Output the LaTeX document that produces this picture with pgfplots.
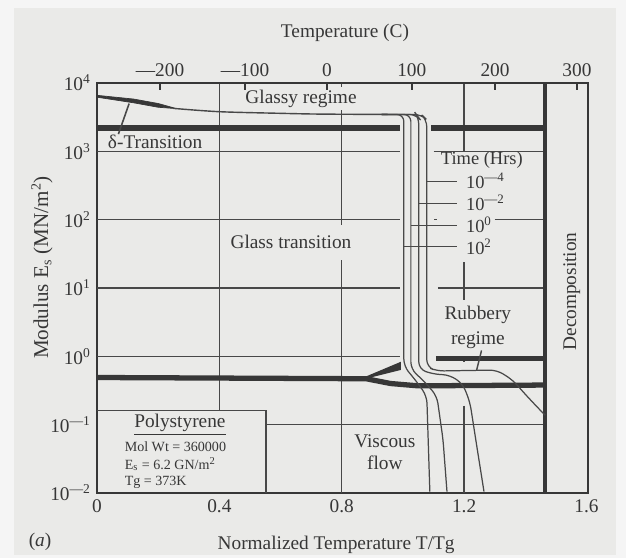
\documentclass[border=0pt]{standalone}
\usepackage{pgfplots}
\pgfplotsset{compat=1.18}
\usepackage{fontspec}
\setmainfont{Liberation Serif}
\definecolor{paper}{RGB}{234,234,232}
\definecolor{ink}{RGB}{55,55,55}
\definecolor{inkthin}{RGB}{72,72,72}
\tikzset{
  thinl/.style={inkthin, line width=0.85pt},
  thickl/.style={ink, line width=3pt},
  curvel/.style={inkthin, line width=0.7pt, rounded corners=4pt},
  lab/.style={font=\fontsize{11}{13}\selectfont, text=ink},
  small/.style={font=\fontsize{8}{9}\selectfont, text=ink, anchor=west, inner sep=0.3pt},
}
\begin{document}
\begin{tikzpicture}
\useasboundingbox (0,0) rectangle (12.52cm,11.16cm);
\fill[white!96!black] (0,0) rectangle (12.52cm,11.16cm);
\fill[paper] (0.28cm,0.06cm) rectangle (12.32cm,11.0cm);
\begin{axis}[
  at={(1.94cm,1.30cm)}, anchor=south west,
  scale only axis, width=9.82cm, height=8.2cm,
  xmin=0, xmax=1.605, ymode=log, ymin=0.01, ymax=10000,
  axis line style={ink, line width=1pt},
  xtick={0,0.4,0.8,1.2,1.6}, xticklabels={0,0.4,0.8,1.2,1.6},
  ytick={0.01,0.1,1,10,100,1000,10000},
  yticklabels={10\textsuperscript{\textemdash2},10\textsuperscript{\textemdash1},10\textsuperscript{0},10\textsuperscript{1},10\textsuperscript{2},10\textsuperscript{3},10\textsuperscript{4}},
  yminorticks=false, major tick length=0pt, minor tick length=0pt,
  tick label style={font=\fontsize{11}{13}\selectfont, text=ink},
  xlabel={Normalized Temperature T/Tg},
  xlabel style={font=\fontsize{11}{13}\selectfont, text=ink, at={(axis description cs:0.487,-0.127)}, anchor=center},
  ylabel={Modulus E\textsubscript{s} (MN/m\textsuperscript{2})},
  ylabel style={font=\fontsize{12}{14}\selectfont, text=ink, at={(axis description cs:-0.112,0.55)}, anchor=center},
  clip=false,
]
% thin horizontal lines
\addplot[thinl] coordinates {(0,1000) (0.99,1000)};
\addplot[thinl] coordinates {(1.10,1000) (1.465,1000)};
\addplot[thinl] coordinates {(0,100) (0.99,100)};
\addplot[thinl] coordinates {(1.30,100) (1.465,100)};
\addplot[thinl] coordinates {(1.103,100) (1.112,100)};
\addplot[thinl] coordinates {(0,10) (0.99,10)};
\addplot[thinl] coordinates {(1.114,10) (1.465,10)};
\addplot[thinl] coordinates {(0,1) (0.99,1)};
\addplot[thinl] coordinates {(0.552,0.1) (1.465,0.1)};
% thin vertical lines
\addplot[thinl] coordinates {(0.4,10000) (0.4,0.16)};
\addplot[thinl] coordinates {(0.8,10000) (0.8,0.01)};
\addplot[thinl] coordinates {(1.2,10000) (1.2,1000)};
\addplot[thinl] coordinates {(1.2,23.7) (1.2,6.6)};
\addplot[thinl] coordinates {(1.2,1.0) (1.2,0.84)};
\addplot[thinl] coordinates {(1.2,0.19) (1.2,0.01)};
% Polystyrene box
\addplot[thinl] coordinates {(0,0.16) (0.552,0.16) (0.552,0.01)};
% thick lines
\addplot[thickl] coordinates {(0,2200) (0.99,2200)};
\addplot[thickl] coordinates {(1.092,2200) (1.465,2200)};
\addplot[thickl] coordinates {(0,0.49) (0.88,0.47) (0.96,0.40) (1.05,0.37) (1.465,0.38)};
\addplot[fill=ink, draw=ink, line width=1.2pt] coordinates {(0.88,0.49) (0.99,0.79) (0.99,0.65)} -- cycle;
\addplot[thickl] coordinates {(1.108,0.92) (1.465,0.92)};
% decomposition
\addplot[ink, line width=2.3pt] coordinates {(1.465,10000) (1.465,0.01)};
% delta transition wedge
\addplot[fill=ink, draw=ink, line width=0.4pt] coordinates {(0,6600) (0.12,5821) (0.20,5012) (0.26,4217) (0.20,4416) (0.12,5129) (0,6200)} -- cycle;
% glassy line
\addplot[inkthin, line width=0.8pt, smooth] coordinates {(0.25,4250) (0.40,3802) (0.60,3600) (0.73,3508) (0.95,3467)};
% time curves
\addplot[curvel] coordinates {(0.93,3467) (1.003,3467) (1.003,0.72) (1.046,0.42) (1.078,0.262) (1.088,0.0105)};
\addplot[curvel] coordinates {(0.93,3467) (1.026,3467) (1.026,0.65) (1.072,0.42) (1.111,0.262) (1.131,0.0612) (1.144,0.0105)};
\addplot[curvel] coordinates {(0.93,3467) (1.044,3467) (1.052,3100) (1.052,0.65) (1.098,0.55) (1.154,0.532) (1.196,0.393) (1.219,0.214) (1.242,0.0468) (1.265,0.0105)};
\addplot[curvel] coordinates {(0.93,3467) (1.06,3467) (1.078,2900) (1.078,0.70) (1.111,0.61) (1.307,0.63) (1.359,0.45) (1.399,0.281) (1.448,0.164) (1.465,0.138)};
% legend leaders
\addplot[thinl, line width=0.7pt] coordinates {(1.078,366) (1.176,366)};
\addplot[thinl, line width=0.7pt] coordinates {(1.052,174) (1.176,174)};
\addplot[thinl, line width=0.7pt] coordinates {(1.026,82.8) (1.176,82.8)};
\addplot[thinl, line width=0.7pt] coordinates {(1.003,40.7) (1.176,40.7)};
% other leaders
\addplot[thinl, line width=0.9pt] coordinates {(0.105,5000) (0.07,1790)};
\addplot[thinl, line width=0.8pt] coordinates {(1.257,1.22) (1.241,0.63)};
% labels
\node[lab, fill=paper, inner xsep=2pt, inner ysep=1.5pt] at (axis cs:0.667,5900) {Glassy regime};
\node[lab] at (axis cs:0.19,1365) {δ-Transition};
\node[lab, fill=paper, inner xsep=2pt, inner ysep=6pt] at (axis cs:0.634,46.8) {Glass transition};
\node[lab, font=\fontsize{10.5}{12}\selectfont] at (axis cs:1.258,741) {Time (Hrs)};
\node[lab, anchor=west, font=\fontsize{10.5}{12}\selectfont] at (axis cs:1.186,366) {10\textsuperscript{\textemdash4}};
\node[lab, anchor=west, font=\fontsize{10.5}{12}\selectfont] at (axis cs:1.186,174) {10\textsuperscript{\textemdash2}};
\node[lab, anchor=west, font=\fontsize{10.5}{12}\selectfont] at (axis cs:1.186,82.8) {10\textsuperscript{0}};
\node[lab, anchor=west, font=\fontsize{10.5}{12}\selectfont] at (axis cs:1.186,40.7) {10\textsuperscript{2}};
\node[lab, align=center, font=\fontsize{11}{14}\selectfont] at (axis cs:1.245,2.63) {Rubbery\\regime};
\node[lab, align=center, font=\fontsize{11}{12.5}\selectfont] at (axis cs:0.941,0.0398) {Viscous\\flow};
\node[lab, rotate=90] at (axis cs:1.552,8.9) {Decomposition};
\node[lab] at (axis cs:0.271,0.1) {\underline{Polystyrene}};
\node[small] at (axis cs:0.088,0.047) {Mol Wt = 360000};
\node[small] at (axis cs:0.088,0.0265) {E\textsubscript{s} = 6.2 GN/m\textsuperscript{2}};
\node[small] at (axis cs:0.088,0.0145) {Tg = 373K};
\node[lab] at (axis description cs:-0.116,-0.12) {(\textit{a})};
\end{axis}
\begin{axis}[
  at={(1.94cm,1.30cm)}, anchor=south west,
  scale only axis, width=9.82cm, height=8.2cm,
  xmin=0, xmax=1.605, ymode=log, ymin=0.01, ymax=10000,
  axis x line*=top, axis y line=none,
  axis line style={ink, line width=1pt},
  xtick={0.206,0.484,0.752,1.029,1.301,1.569},
  xticklabels={\textemdash200,\textemdash100,0,100,200,300},
  xtick align=inside, major tick length=4pt,
  xtick style={ink, line width=0.9pt},
  tick label style={font=\fontsize{11}{13}\selectfont, text=ink},
  xlabel={Temperature (C)},
  xlabel style={font=\fontsize{11}{13}\selectfont, text=ink, at={(axis description cs:0.505,1.122)}, anchor=center},
]
\addplot[draw=none] coordinates {(0.5,1)};
\end{axis}
\end{tikzpicture}
\end{document}
